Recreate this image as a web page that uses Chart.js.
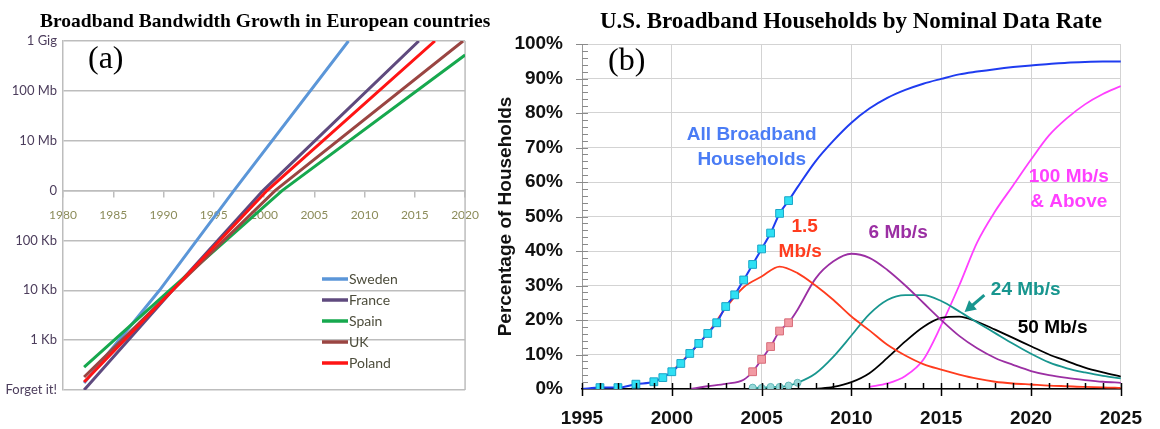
<!DOCTYPE html>
<html>
<head>
<meta charset="utf-8">
<script src="https://cdn.jsdelivr.net/npm/chart.js@4.4.1/dist/chart.umd.min.js"></script>
<style>
  body { margin: 0; background: #fff; }
  #wrap { position: relative; width: 1160px; height: 429px; overflow: hidden; }
  canvas { position: absolute; top: 0; }
</style>
</head>
<body>
<div id="wrap">
  <canvas id="chartA" width="490" height="429" style="left:0"></canvas>
  <canvas id="chartB" width="670" height="429" style="left:490px"></canvas>
</div>
<script>
// ---------- panel (a) data: log levels, 0 = "Forget it!" ... 7 = "1 Gig" ----------
const levelLabels = ['Forget it!', '1 Kb', '10 Kb', '100 Kb', '0', '10 Mb', '100 Mb', '1 Gig'];
const countries = ['Sweden', 'France', 'Spain', 'UK', 'Poland'];
const countryColors = ['#5b96d8', '#5f4a7e', '#16a84e', '#9a4542', '#ff1414'];
// [year, level] (start, near 10 Kb, on the "0" line, end)
const swedenPts = [[1982.1, 0.14], [1989.6, 2], [1997.0, 4], [2008.4, 7]];
const francePts = [[1982.1, 0], [1990.9, 2], [1999.9, 4], [2015.4, 7]];
const spainPts = [[1982.1, 0.46], [1990.6, 2], [2001.8, 4], [2020, 6.72]];
const ukPts = [[1982.1, 0.26], [1990.9, 2], [2001.1, 4], [2019.8, 7]];
const polandPts = [[1982.1, 0.16], [1990.9, 2], [2000.3, 4], [2017.0, 7]];
const countryPts = [swedenPts, francePts, spainPts, ukPts, polandPts];

// ---------- panel (b) data: % of US households ----------
const yearsAll = [1995, 1996, 1997, 1998, 1999, 1999.5, 2000, 2000.5, 2001, 2001.5, 2002, 2002.5, 2003, 2003.5, 2004, 2004.5, 2005, 2005.5, 2006, 2006.5,
  2007, 2008, 2009, 2010, 2011, 2012, 2013, 2014, 2015, 2016, 2017, 2018, 2019, 2020, 2021, 2022, 2023, 2024, 2025];
const pctAll = [0, 0.4, 0.4, 1.4, 2.1, 3.3, 5.0, 7.4, 10.3, 13.2, 16.1, 19.2, 23.9, 27.3, 31.6, 36.1, 40.6, 45.2, 50.9, 54.6,
  58.5, 66, 72, 77.2, 81.3, 84.4, 86.7, 88.5, 89.9, 91.2, 92, 92.7, 93.3, 93.8, 94.2, 94.6, 94.8, 94.9, 94.9];
const years1_5 = [2000, 2001, 2002, 2003, 2004, 2005, 2006, 2007, 2008, 2009, 2010, 2011, 2012, 2013, 2014, 2015, 2016, 2017, 2018, 2019, 2020, 2021, 2022, 2023, 2024, 2025];
const pct1_5 = [5.0, 10.3, 16.1, 23.5, 29.5, 32.6, 35.5, 33.6, 30, 25.8, 21.0, 17, 12.8, 9.7, 7.2, 5.6, 4.2, 3.0, 2.1, 1.6, 1.3, 1.0, 0.8, 0.6, 0.5, 0.3];
const years6 = [2001, 2002, 2003, 2004, 2004.5, 2005, 2005.5, 2006, 2006.5, 2007, 2008, 2009, 2010, 2011, 2012, 2013, 2014, 2015, 2016, 2017, 2018, 2019, 2020, 2021, 2022, 2023, 2024, 2025];
const pct6 = [0, 0.8, 1.5, 2.7, 5.0, 8.6, 12.3, 16.8, 19.2, 23, 32, 37, 39.2, 38, 34.5, 30, 25, 20, 15.4, 11.8, 9, 7, 5.2, 4.0, 3.2, 2.6, 2.1, 1.8];
const years24 = [2004.5, 2005, 2005.5, 2006, 2006.5, 2007, 2008, 2009, 2010, 2011, 2012, 2013, 2014, 2015, 2016, 2017, 2018, 2019, 2020, 2021, 2022, 2023, 2024, 2025];
const pct24 = [0.4, 0.3, 0.6, 0.6, 1.0, 1.8, 4.5, 9.4, 15.5, 21.7, 25.8, 27.2, 27.2, 25.5, 22.5, 19.3, 16.2, 13.1, 10.2, 7.7, 6, 4.8, 3.8, 3.1];
const years50 = [2008, 2009, 2010, 2011, 2012, 2013, 2014, 2015, 2016, 2017, 2018, 2019, 2020, 2021, 2022, 2023, 2024, 2025];
const pct50 = [0, 0.6, 2.0, 4.6, 9.0, 13.8, 18, 20.6, 21, 19.5, 17.2, 14.8, 12.4, 10.0, 8.1, 6.2, 4.8, 3.6];
const years100 = [2011, 2012, 2013, 2014, 2015, 2016, 2017, 2018, 2019, 2020, 2021, 2022, 2023, 2024, 2025];
const pct100 = [0.6, 1.6, 3.8, 8.5, 18.5, 30, 42.5, 51.5, 59, 66.5, 73.5, 78.5, 82.5, 85.5, 87.8];

// labels on panel (b), placed in data units
const notes = [
  { text: 'All Broadband', x: 2004.45, y: 73.6, color: '#4a7cf5' },
  { text: 'Households', x: 2004.45, y: 66.4, color: '#4a7cf5' },
  { text: '1.5', x: 2007.4, y: 47.0, color: '#ff3c1e' },
  { text: 'Mb/s', x: 2007.15, y: 39.7, color: '#ff3c1e' },
  { text: '6 Mb/s', x: 2012.6, y: 45.2, color: '#9b2fa3' },
  { text: '100 Mb/s', x: 2022.1, y: 61.4, color: '#ff40ff' },
  { text: '& Above', x: 2022.1, y: 54.2, color: '#ff40ff' },
  { text: '24 Mb/s', x: 2019.7, y: 28.7, color: '#18968f' },
  { text: '50 Mb/s', x: 2021.2, y: 17.7, color: '#000' }
];

Chart.defaults.font.family = '"Liberation Sans", Arial, sans-serif';

const toXY = (xs, ys) => xs.map((x, i) => ({ x: x, y: ys[i] }));

// ---------- panel (a) ----------
const panelAExtras = {
  id: 'panelAExtras',
  beforeDatasetsDraw(chart) {
    const ctx = chart.ctx, a = chart.chartArea;
    const xr = chart.scales.x.getPixelForValue(2020);
    ctx.save();
    ctx.strokeStyle = '#bdbdbd';
    ctx.lineWidth = 1.5;
    ctx.beginPath();
    ctx.moveTo(xr, a.top);
    ctx.lineTo(xr, a.bottom);
    ctx.stroke();
    ctx.restore();
  },
  afterDraw(chart) {
    const ctx = chart.ctx;
    ctx.save();
    ctx.fillStyle = '#000';
    ctx.textAlign = 'left';
    ctx.textBaseline = 'alphabetic';
    ctx.font = 'bold 19.5px "Liberation Serif"';
    ctx.fillText('Broadband Bandwidth Growth in European countries', 40, 27);
    ctx.textBaseline = 'middle';
    ctx.font = '32px "Liberation Serif"';
    ctx.fillText('(a)', 88, 60);
    // legend
    ctx.font = '14px Lato';
    countries.forEach((name, i) => {
      const y = 279 + i * 21;
      ctx.strokeStyle = countryColors[i];
      ctx.lineWidth = 3.5;
      ctx.beginPath();
      ctx.moveTo(322, y);
      ctx.lineTo(348, y);
      ctx.stroke();
      ctx.fillStyle = '#4d4d3c';
      ctx.fillText(name, 349, y);
    });
    ctx.restore();
  }
};

new Chart(document.getElementById('chartA'), {
  type: 'line',
  data: {
    datasets: countries.map((name, i) => ({
      label: name,
      data: countryPts[i].map(p => ({ x: p[0], y: p[1] })),
      borderColor: countryColors[i],
      borderWidth: 3,
      pointRadius: 0,
      tension: 0,
      order: countries.length - i
    }))
  },
  options: {
    responsive: false,
    animation: false,
    layout: { padding: { top: 41, right: 16, bottom: 39, left: 0 } },
    plugins: { legend: { display: false }, tooltip: { enabled: false } },
    scales: {
      x: {
        type: 'linear',
        min: 1980,
        max: 2020,
        position: { y: 4 },
        ticks: { stepSize: 5, padding: 11, color: '#8c8c5a', font: { family: 'Lato', size: 12 }, callback: v => String(v) },
        grid: { drawOnChartArea: false, drawTicks: true, tickLength: 6, color: '#bdbdbd', lineWidth: 1.5 },
        border: { color: '#bdbdbd', width: 1.5 }
      },
      y: {
        min: 0,
        max: 7,
        afterFit: s => { s.width = 63; },
        ticks: { stepSize: 1, padding: 6, color: '#4c3d5c', font: { family: 'Lato', size: 13 }, callback: v => levelLabels[v] },
        grid: { color: '#bdbdbd', lineWidth: 1.5, drawTicks: false },
        border: { color: '#bdbdbd', width: 1.5 }
      }
    }
  },
  plugins: [panelAExtras]
});

// ---------- panel (b) ----------
const panelBExtras = {
  id: 'panelBExtras',
  afterDatasetsDraw(chart) {
    const ctx = chart.ctx, xs = chart.scales.x, ys = chart.scales.y;
    const left = xs.left, bottom = ys.bottom;
    ctx.save();
    // y minor / major ticks
    ctx.strokeStyle = '#8a8a8a';
    ctx.lineWidth = 1;
    for (let v = 2; v <= 100; v += 2) {
      const y = Math.round(ys.getPixelForValue(v)) + 0.5;
      ctx.beginPath();
      ctx.moveTo(v % 10 === 0 ? left - 6 : left, y);
      ctx.lineTo(left + 6, y);
      ctx.stroke();
    }
    // x minor / major ticks on the black base line
    ctx.strokeStyle = '#000';
    ctx.lineWidth = 1.5;
    for (let yr = 1995; yr <= 2025; yr++) {
      const x = Math.round(xs.getPixelForValue(yr)) + 0.5;
      ctx.beginPath();
      ctx.moveTo(x, bottom - 6);
      ctx.lineTo(x, yr % 5 === 0 ? bottom + 7 : bottom);
      ctx.stroke();
    }
    ctx.restore();
  },
  afterDraw(chart) {
    const ctx = chart.ctx, xs = chart.scales.x, ys = chart.scales.y;
    ctx.save();
    ctx.fillStyle = '#000';
    ctx.textAlign = 'left';
    ctx.textBaseline = 'alphabetic';
    ctx.font = 'bold 23px "Liberation Serif"';
    ctx.fillText('U.S. Broadband Households by Nominal Data Rate', 110, 28);
    ctx.textBaseline = 'middle';
    ctx.font = '32px "Liberation Serif"';
    ctx.fillText('(b)', 118, 62);
    // curve labels
    ctx.textAlign = 'center';
    ctx.font = 'bold 19px "Liberation Sans"';
    notes.forEach(n => {
      ctx.fillStyle = n.color;
      ctx.fillText(n.text, xs.getPixelForValue(n.x), ys.getPixelForValue(n.y));
    });
    // arrow pointing at the 24 Mb/s curve
    const x1 = xs.getPixelForValue(2017.4), y1 = ys.getPixelForValue(27.2);
    const x2 = xs.getPixelForValue(2016.3), y2 = ys.getPixelForValue(22.3);
    const ang = Math.atan2(y2 - y1, x2 - x1);
    ctx.strokeStyle = '#18968f';
    ctx.fillStyle = '#18968f';
    ctx.lineWidth = 3;
    ctx.beginPath();
    ctx.moveTo(x1, y1);
    ctx.lineTo(x2 - 7 * Math.cos(ang), y2 - 7 * Math.sin(ang));
    ctx.stroke();
    ctx.beginPath();
    ctx.moveTo(x2, y2);
    ctx.lineTo(x2 - 11 * Math.cos(ang) + 6 * Math.sin(ang), y2 - 11 * Math.sin(ang) - 6 * Math.cos(ang));
    ctx.lineTo(x2 - 11 * Math.cos(ang) - 6 * Math.sin(ang), y2 - 11 * Math.sin(ang) + 6 * Math.cos(ang));
    ctx.closePath();
    ctx.fill();
    ctx.restore();
  }
};

const lineDefaults = { borderWidth: 1.8, tension: 0, cubicInterpolationMode: 'monotone', pointRadius: 0 };

new Chart(document.getElementById('chartB'), {
  type: 'line',
  data: {
    datasets: [
      Object.assign({}, lineDefaults, {
        label: 'All Broadband Households',
        data: toXY(yearsAll, pctAll),
        borderColor: '#1f3cf0',
        borderWidth: 2,
        pointStyle: 'rect',
        pointRadius: c => (c.raw && c.raw.x >= 1996 && c.raw.x <= 2006.5) ? 5.5 : 0,
        pointBackgroundColor: '#2fe0f4',
        pointBorderColor: '#1aa6c8',
        pointBorderWidth: 1
      }),
      Object.assign({}, lineDefaults, { label: '1.5 Mb/s', data: toXY(years1_5, pct1_5), borderColor: '#ff3c1e' }),
      Object.assign({}, lineDefaults, {
        label: '6 Mb/s',
        data: toXY(years6, pct6),
        borderColor: '#9b2fa3',
        pointStyle: 'rect',
        pointRadius: c => (c.raw && c.raw.x >= 2004.5 && c.raw.x <= 2006.5) ? 5.5 : 0,
        pointBackgroundColor: '#f29aa3',
        pointBorderColor: '#d86d7a',
        pointBorderWidth: 1
      }),
      Object.assign({}, lineDefaults, {
        label: '24 Mb/s',
        data: toXY(years24, pct24),
        borderColor: '#18968f',
        pointStyle: 'circle',
        pointRadius: c => (c.raw && c.raw.x <= 2007) ? 3.5 : 0,
        pointBackgroundColor: '#96d8d8',
        pointBorderColor: '#62b8b8',
        pointBorderWidth: 1
      }),
      Object.assign({}, lineDefaults, { label: '50 Mb/s', data: toXY(years50, pct50), borderColor: '#000' }),
      Object.assign({}, lineDefaults, { label: '100 Mb/s & Above', data: toXY(years100, pct100), borderColor: '#ff40ff' })
    ]
  },
  options: {
    responsive: false,
    animation: false,
    layout: { padding: { top: 44, right: 25, bottom: 0, left: 0 } },
    plugins: { legend: { display: false }, tooltip: { enabled: false } },
    scales: {
      x: {
        type: 'linear',
        min: 1995,
        max: 2025,
        afterFit: s => { s.height = 40; },
        ticks: { stepSize: 5, padding: 18, color: '#111', font: { size: 19, weight: 'bold' }, callback: v => String(v) },
        grid: { color: '#d3d3d3', drawTicks: false },
        border: { color: '#000', width: 1.5 }
      },
      y: {
        min: 0,
        max: 100,
        afterFit: s => { s.width = 92; },
        ticks: { stepSize: 10, padding: 19, color: '#111', font: { size: 19, weight: 'bold' }, callback: v => v + '%' },
        grid: { color: '#d3d3d3', drawTicks: false },
        border: { color: '#9a9a9a', width: 1 },
        title: { display: true, text: 'Percentage of Households', color: '#111', font: { size: 19, weight: 'bold' }, padding: { top: 4, bottom: 0 } }
      }
    }
  },
  plugins: [panelBExtras]
});
</script>
</body>
</html>
